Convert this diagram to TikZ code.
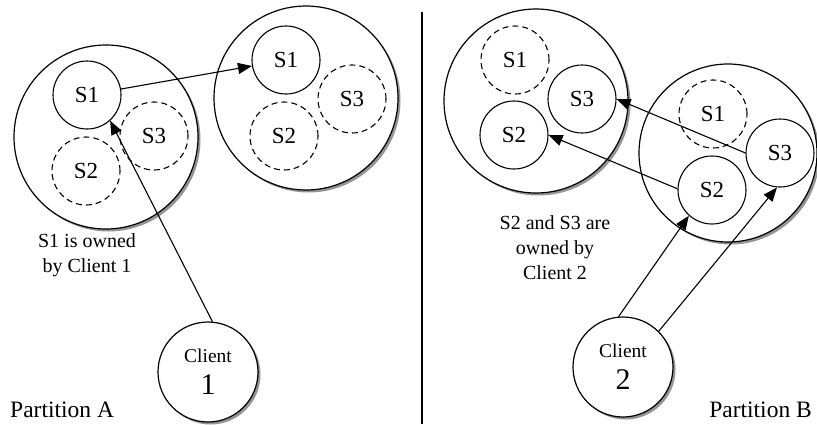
\documentclass[tikz,border=0pt]{standalone}
\usepackage{fontspec}
\setmainfont{Liberation Serif}
\usetikzlibrary{shadows,arrows.meta}
\begin{document}
\begin{tikzpicture}[x=1pt,y=-1pt,
  big/.style={circle,draw,line width=1.2pt,fill=white,minimum size=184pt,inner sep=0pt,
    drop shadow={shadow xshift=2.5pt,shadow yshift=-2.5pt,fill=black!60,opacity=0.7}},
  srv/.style={circle,draw,line width=1.1pt,minimum size=68pt,inner sep=0pt,font=\fontsize{23}{27}\selectfont},
  idle/.style={srv,dash pattern=on 6pt off 4pt},
  cli/.style={circle,draw,line width=1.2pt,fill=white,minimum size=100pt,inner sep=0pt,align=center,
    font=\fontsize{19.5}{22}\selectfont,
    drop shadow={shadow xshift=2.5pt,shadow yshift=-2.5pt,fill=black!60,opacity=0.7}},
  lbl/.style={align=center,font=\fontsize{20}{25}\selectfont,inner sep=0pt},
  part/.style={font=\fontsize{23.5}{27}\selectfont,inner sep=0pt},
  arr/.style={line width=1.1pt,-{Triangle[length=14pt,width=11pt]}}
]
\useasboundingbox (0,0) rectangle (817,424);
% divider
\coordinate (dtop) at (422,12);
\coordinate (dbot) at (422,424);
\draw[line width=1.1pt] (dtop) -- (dbot);
% big circles
\node[big] (A1) at (106,137) {};
\node[big] (A2) at (306,98) {};
\node[big] (B1) at (536,101) {};
\node[big,minimum size=178pt] (B2) at (728,153) {};
% partition A, group 1
\node[srv]  (a1s1) at (87,95) {S1};
\node[idle] (a1s3) at (154,136) {S3};
\node[idle] (a1s2) at (86,171) {S2};
% partition A, group 2
\node[srv]  (a2s1) at (286,60) {S1};
\node[idle] (a2s3) at (352,99) {S3};
\node[idle] (a2s2) at (284,136) {S2};
% partition B, group 1
\node[idle] (b1s1) at (515,60) {S1};
\node[srv]  (b1s3) at (582,99) {S3};
\node[srv]  (b1s2) at (514,135) {S2};
% partition B, group 2
\node[idle] (b2s1) at (713,114) {S1};
\node[srv]  (b2s3) at (780,153) {S3};
\node[srv]  (b2s2) at (712,190) {S2};
% clients
\node[cli] (c1) at (208,372) {Client\\[10pt]{\fontsize{30}{30}\selectfont 1}};
\node[cli] (c2) at (623,367) {Client\\[10pt]{\fontsize{30}{30}\selectfont 2}};
% labels
\node[lbl] (l1) at (87,255) {S1 is owned\\by Client 1};
\node[lbl] (l2) at (555,248) {S2 and S3 are\\owned by\\Client 2};
\node[part,anchor=west] (pa) at (10,410) {Partition A};
\node[part,anchor=east] (pb) at (812,410) {Partition B};
% arrows
\draw[arr] (a1s1) -- (a2s1);
\draw[arr] (c1.85) -- (a1s1.-48);
\draw[arr] (c2.95) -- (b2s2.-132);
\draw[arr] (c2.45) -- (b2s3.-95);
\draw[arr] (b2s2.178) -- (b1s2.0);
\draw[arr] (b2s3.180) -- (b1s3.0);
\end{tikzpicture}
\end{document}
